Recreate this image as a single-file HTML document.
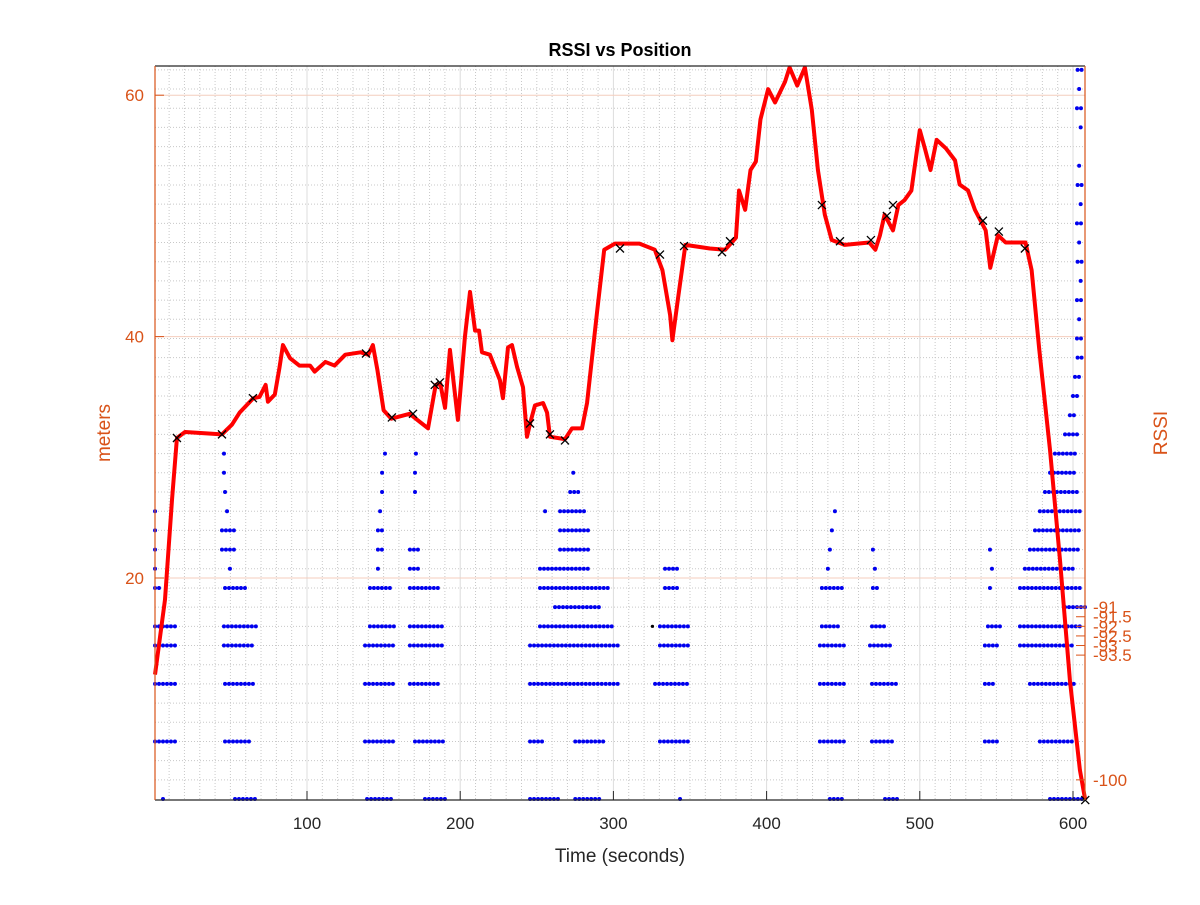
<!DOCTYPE html>
<html><head><meta charset="utf-8"><style>
body{margin:0;background:#fff}
svg text{font-family:"Liberation Sans",sans-serif}
</style></head><body>
<svg id="chart" width="1200" height="900" xmlns="http://www.w3.org/2000/svg">
<rect width="1200" height="900" fill="#fff"/>
<g id="grid"></g><g id="blue"></g><g id="red"></g><g id="marks"></g><g id="axes"></g>
</svg>
<script>
// Position (meters) vs time
const posT=[0.8,7.3,11.9,15.1,20.4,44.5,51,56,65,69,73,74.5,79,82,84.3,89,95,102,105,112,118,125,135,140,143,146,150,155,167,174,179,184,187,190.1,193.3,198.5,203.1,206.4,209.7,212.3,214.2,219.4,225.9,227.9,231.2,233.8,237.1,241,243.6,245.6,248.8,254.1,256.7,258.6,268.4,273,279.5,282.8,289.3,294,301,317,327,332,337,338.5,342,347,363,373,380,382,386,389.5,393,396,401,405.5,412,415,420,425,429.5,433.5,438,442.5,451,467,471,474,477,482.5,486,490,494.5,500,503.5,507,511,517,523,526,531.5,536,543,546,551,556,569,573,578,585,591.5,598,604.5,608];
const posM=[12,18.2,26.5,31.6,32.1,31.9,32.7,33.7,34.9,35,36,34.6,35.2,37.4,39.3,38.2,37.6,37.6,37.1,37.9,37.6,38.5,38.7,38.5,39.3,37.2,33.9,33.2,33.6,32.9,32.4,36,36.1,34.1,38.9,33.1,40.0,43.7,40.5,40.5,38.7,38.5,36.4,34.9,39.1,39.3,37.5,35.8,31.7,32.8,34.3,34.5,33.7,31.7,31.5,32.4,32.4,34.5,42.0,47.2,47.7,47.7,47.2,45.5,41.8,39.7,43,47.6,47.3,47.2,48.2,52.1,50.5,53.8,54.5,58,60.5,59.4,61.1,62.3,60.8,62.3,58.8,53.8,50.1,48,47.6,47.8,47.2,48.4,50.1,48.8,50.9,51.3,52.1,57.1,55.5,53.8,56.3,55.6,54.6,52.6,52.1,50.5,48.8,45.7,48.4,47.8,47.8,45.5,38.9,30.6,21.5,11.5,4.1,1.6];
// Marked waypoints
const wpT=[15.1,44.5,64.7,138.5,155.4,169.2,183.4,186.7,245.6,258.6,268.4,304.3,330.4,346.1,370.9,376.1,436.1,447.9,468.1,478.5,482.5,541.2,551.6,568.6,608];
const wpM=[31.6,31.9,34.9,38.6,33.3,33.6,36.0,36.2,32.8,31.9,31.4,47.3,46.8,47.5,47.0,47.9,50.9,47.9,48.0,50.0,50.9,49.6,48.7,47.3,1.6];
// RSSI sample runs: start time, end time, rssi level
const runStart=[6,0.8,0.8,0.8,0.8,0.8,0.8,0.8,0.8,0.8,
45.8,45.8,46.5,47.8,44.5,44.5,49.7,46.5,45.8,45.8,46.5,46.5,53,
139.2,137.9,137.9,137.9,141.1,141.1,146.3,146.3,146.3,147.7,149,149,150.9,
171.1,170.5,170.5,167.2,167.2,167.2,167.2,167.2,167.2,170.5,177,
245.6,275.1,245.6,275.1,245.6,245.6,252.1,261.9,252.1,252.1,265.2,265.2,255.4,265.2,271.8,273.8,
330.4,327.2,330.4,330.4,333.7,333.7,343.5,
441.3,434.8,434.8,434.8,436.1,436.1,440,441.3,442.6,444.6,
477.3,468.8,468.8,467.5,468.8,469.4,470.7,469.4,
542.5,542.5,542.5,544.5,545.8,547.1,545.8,
585,578.4,571.9,565.4,565.4,594.8,565.4,568.6,571.9,575.2,578.4,581.7,585,588.2,594.8,598,600,601.3,603,602.6,604,602.6,605,603,604,602.6,605,603,604,605,602.6,604,603];
const runEnd=[6,15.8,15.8,15.8,15.8,4,0.8,0.8,0.8,0.8,
45.8,45.8,46.5,47.8,53,54.3,49.7,59.5,68,65.4,65.4,62.8,66,
155.5,157.4,157.4,157.4,157.4,154.2,146.3,150.9,150.9,147.7,149,149,150.9,
171.1,170.5,170.5,172.4,173.7,186.8,190,190,186.8,190,190,
265.2,291.4,255.4,294.6,304.3,304.3,301.3,291.4,297.9,284.9,284.9,284.9,255.4,281.6,278.4,273.8,
350,350,350,350,343.5,343.5,343.5,
451.2,451.2,451.2,451.2,447.9,449.2,440,441.3,442.6,444.6,
487.1,483.8,485.1,480.6,477.3,474,470.7,469.4,
551,549.1,550.4,552.3,545.8,547.1,545.8,
607.9,601.3,601.3,601.3,604.6,607.9,604.6,601.3,604.6,604.6,604.6,604.6,601.3,601.3,604.6,603,604.6,605.9,605.9,605.9,605.9,605.9,605.9,605.9,605.9,605.9,605.9,605.9,605.9,605.9,605.9,605.9,605.9];
const runLevel=[-101,-98,-95,-93,-92,-90,-89,-88,-87,-86,
-83,-84,-85,-86,-87,-88,-89,-90,-92,-93,-95,-98,-101,
-101,-98,-95,-93,-92,-90,-89,-88,-87,-86,-85,-84,-83,
-83,-84,-85,-88,-89,-90,-92,-93,-95,-98,-101,
-101,-101,-98,-98,-95,-93,-92,-91,-90,-89,-88,-87,-86,-86,-85,-84,
-98,-95,-93,-92,-90,-89,-101,
-101,-98,-95,-93,-92,-90,-89,-88,-87,-86,
-101,-98,-95,-93,-92,-90,-89,-88,
-98,-95,-93,-92,-90,-89,-88,
-101,-98,-95,-93,-92,-91,-90,-89,-88,-87,-86,-85,-84,-83,-82,-81,-80,-79,-78,-77,-76,-75,-74,-73,-72,-71,-70,-69,-68,-66,-65,-64,-63];
const xTicks=[100,200,300,400,500,600];
const yTicks=[20,40,60];
const rTicks=[-91,-91.5,-92,-92.5,-93,-93.5,-100];
const rTickLabels=["-91","-91.5","-92","-92.5","-93","-93.5","-100"];

const L=155,R=1085,T=66,B=800;
const X=t=>153.8+t*1.532;
const Y=m=>578-(m-20)*12.07;
const YR=r=>B-(r+101.05)*19.19;
const NS="http://www.w3.org/2000/svg";
function mk(tag,at,parent){const e=document.createElementNS(NS,tag);for(const k in at)e.setAttribute(k,at[k]);document.getElementById(parent).appendChild(e);return e;}
const OR="#D95319";
// grid
for(let t=10;t<608;t+=10){if(t%100===0)continue;const e=mk('line',{x1:X(t),x2:X(t),y1:T,y2:B,stroke:'#c8c8c8','stroke-width':1,'stroke-dasharray':'1,2'},'grid');

}
for(let r=-100;r<=-63;r++){const e=mk('line',{x1:L,x2:R,y1:YR(r),y2:YR(r),stroke:'#c8c8c8','stroke-width':1,'stroke-dasharray':'1,2'},'grid');

}
xTicks.forEach(t=>{const e=mk('line',{x1:X(t),x2:X(t),y1:T,y2:B,stroke:'#dcdcdc','stroke-width':1},'grid');

});
yTicks.forEach(m=>{const e=mk('line',{x1:L,x2:R,y1:Y(m),y2:Y(m),stroke:'#f4cdbd','stroke-width':1},'grid');

});
// blue rssi dots
for(let i=0;i<runStart.length;i++){for(let t=runStart[i];t<=runEnd[i]+0.01;t+=2.6){const c=mk('circle',{cx:X(t),cy:YR(runLevel[i]),r:2,fill:'#0000ee'},'blue');

}}
const bd=mk('circle',{cx:X(325.5),cy:YR(-92),r:1.6,fill:'#000'},'blue');


// red line
const pl=mk('polyline',{points:posT.map((t,i)=>X(t)+','+Y(posM[i])).join(' '),fill:'none',stroke:'#ff0000','stroke-width':4,'stroke-linejoin':'round'},'red');


// waypoints
wpT.forEach((t,i)=>{const x=X(t),y=Y(wpM[i]);const p=mk('path',{d:`M${x-4},${y-4}L${x+4},${y+4}M${x-4},${y+4}L${x+4},${y-4}`,stroke:'#000','stroke-width':1.3},'marks');

});
// axes
const ax=[['line',{x1:L,x2:R,y1:T,y2:T,stroke:'#262626'}],['line',{x1:L,x2:R,y1:B,y2:B,stroke:'#262626'}],
['line',{x1:L,x2:L,y1:T,y2:B,stroke:OR}],['line',{x1:R,x2:R,y1:T,y2:B,stroke:OR}]];
ax.forEach(a=>{const e=mk(a[0],Object.assign({'stroke-width':1.2},a[1]),'axes');

});
xTicks.forEach(t=>{const e=mk('line',{x1:X(t),x2:X(t),y1:B,y2:B-9,stroke:'#262626'},'axes');


const tx=mk('text',{x:X(t),y:B+29,'font-size':17,fill:'#262626','text-anchor':'middle'},'axes');tx.textContent=t;

});
yTicks.forEach(m=>{const e=mk('line',{x1:L,x2:L+9,y1:Y(m),y2:Y(m),stroke:OR},'axes');


const tx=mk('text',{x:L-11,y:Y(m)+6,'font-size':17,fill:OR,'text-anchor':'end'},'axes');tx.textContent=m;

});
rTicks.forEach((r,i)=>{const e=mk('line',{x1:R,x2:R-9,y1:YR(r),y2:YR(r),stroke:OR},'axes');


const tx=mk('text',{x:R+8,y:YR(r)+6,'font-size':17,fill:OR},'axes');tx.textContent=rTickLabels[i];

});
function label(txt,at,name){const t=mk('text',at,'axes');t.textContent=txt;

}
label('RSSI vs Position',{x:620,y:56,'font-size':18,'font-weight':'bold',fill:'#000','text-anchor':'middle'},'chart-title');
label('Time (seconds)',{x:620,y:862,'font-size':19,fill:'#262626','text-anchor':'middle'},'x-axis-title');
label('meters',{x:110,y:433,'font-size':19,fill:OR,'text-anchor':'middle',transform:'rotate(-90 110 433)'},'y-axis-title');
label('RSSI',{x:1167,y:433,'font-size':19,fill:OR,'text-anchor':'middle',transform:'rotate(-90 1167 433)'},'rssi-axis-title');
</script>
</body></html>
